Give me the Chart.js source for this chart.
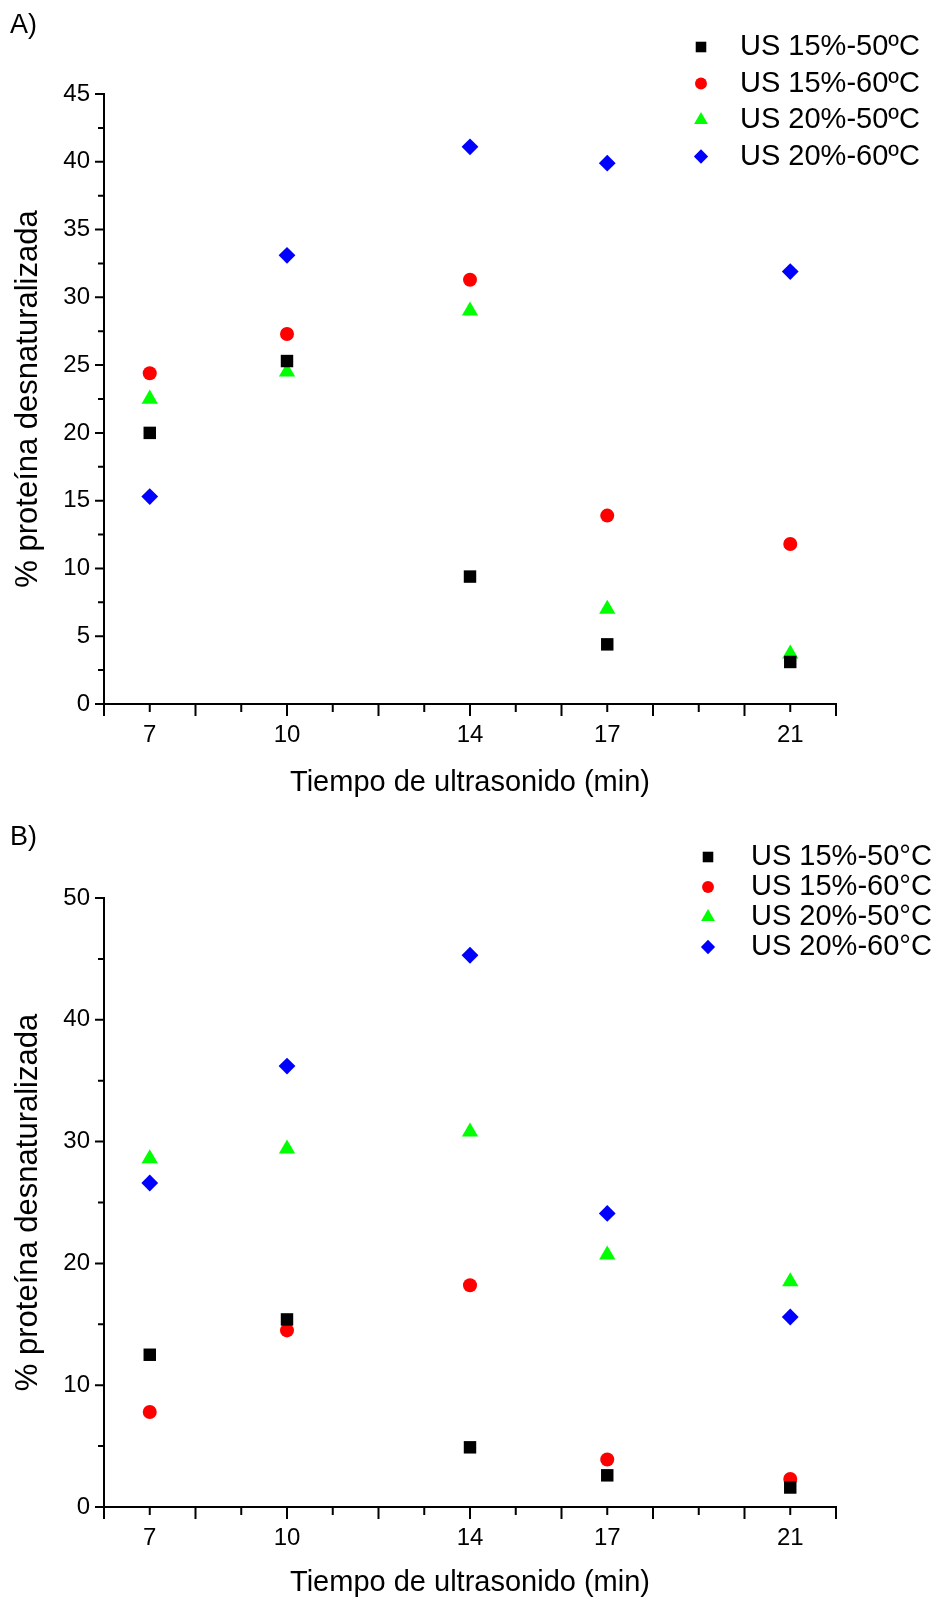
<!DOCTYPE html>
<html lang="es">
<head>
  <meta charset="UTF-8" />
  <title>Proteína desnaturalizada vs tiempo de ultrasonido</title>
  <script src="https://cdn.jsdelivr.net/npm/chart.js"></script>
  <style>
    html, body { margin: 0; padding: 0; background: #fff; }
    .panel { position: absolute; left: 0; width: 931px; height: 800px; }
    .tag { position: absolute; left: 10px; font: 27px "Liberation Sans", Arial, sans-serif; color: #000; line-height: 30px; }
  </style>
</head>
<body>
  <div class="panel" style="top:0"><canvas id="chartA"></canvas></div>
  <div class="panel" style="top:800px"><canvas id="chartB"></canvas></div>
  <div class="tag" style="top:9px">A)</div>
  <div class="tag" style="top:821px">B)</div>

  <script>
    // datos
    const tiempos = [7, 10, 14, 17, 21];
    const etiquetasX = [7, 10, 14, 17, 21];

    const nombresA = ['US 15%-50ºC', 'US 15%-60ºC', 'US 20%-50ºC', 'US 20%-60ºC'];
    const us15_50_A = [20.0, 25.3, 9.4, 4.4, 3.1];
    const us15_60_A = [24.4, 27.3, 31.3, 13.9, 11.8];
    const us20_50_A = [22.5, 24.5, 29.0, 7.0, 3.7];
    const us20_60_A = [15.3, 33.1, 41.1, 39.9, 31.9];

    const nombresB = ['US 15%-50°C', 'US 15%-60°C', 'US 20%-50°C', 'US 20%-60°C'];
    const us15_50_B = [12.5, 15.4, 4.9, 2.6, 1.6];
    const us15_60_B = [7.8, 14.5, 18.2, 3.9, 2.3];
    const us20_50_B = [28.6, 29.4, 30.8, 20.7, 18.5];
    const us20_60_B = [26.6, 36.2, 45.3, 24.1, 15.6];

    const FUENTE = '"Liberation Sans", Arial, sans-serif';
    Chart.defaults.font.family = FUENTE;
    Chart.defaults.color = '#000';

    // estilo de cada serie (cuadrado, circulo, triangulo, rombo)
    const estilos = [
      { pointStyle: 'rect', color: '#000000', radius: 8.8 },
      { pointStyle: 'circle', color: '#ff0000', radius: 7.0 },
      { pointStyle: 'triangle', color: '#00ff00', radius: 9.4 },
      { pointStyle: 'rectRot', color: '#0000ff', radius: 8.4 }
    ];

    // marcas de los ejes: largas y cortas como en Origin
    const marcasEjes = {
      id: 'marcasEjes',
      afterDraw(chart, args, opts) {
        const { ctx, chartArea, scales: { x, y } } = chart;
        ctx.save();
        ctx.strokeStyle = '#000';
        ctx.lineWidth = 2;
        ctx.beginPath();
        for (let v = x.min; v <= x.max; v += 1) {
          const px = x.getPixelForValue(v);
          const len = v % 2 === 0 ? 12 : 8;
          ctx.moveTo(px, chartArea.bottom);
          ctx.lineTo(px, chartArea.bottom + len);
        }
        const medio = opts.paso / 2;
        for (let k = 0; k * medio <= y.max + 1e-9; k++) {
          const py = y.getPixelForValue(k * medio);
          const len = k % 2 === 0 ? 9 : 6;
          ctx.moveTo(chartArea.left, py);
          ctx.lineTo(chartArea.left - len, py);
        }
        ctx.stroke();
        ctx.restore();
      }
    };

    const leyenda = {
      id: 'leyenda',
      afterDraw(chart, args, o) {
        const ctx = chart.ctx;
        ctx.save();
        ctx.font = o.size + 'px ' + FUENTE;
        ctx.textBaseline = 'middle';
        ctx.textAlign = 'left';
        chart.data.datasets.forEach((ds, i) => {
          const yy = o.y + i * o.dy;
          ctx.fillStyle = ds.backgroundColor;
          ctx.strokeStyle = ds.backgroundColor;
          Chart.helpers.drawPoint(ctx, {
            pointStyle: ds.pointStyle, radius: ds.pointRadius * 0.85, rotation: 0, borderWidth: 0
          }, o.x, yy);
          ctx.fillStyle = '#000';
          ctx.fillText(ds.label, o.xText, yy);
        });
        ctx.restore();
      }
    };

    function crearGrafico(id, nombres, series, yMax, paso, cfg) {
      const datasets = series.map((vals, i) => ({
        label: nombres[i],
        data: tiempos.map((t, j) => ({ x: t, y: vals[j] })),
        showLine: false,
        pointStyle: estilos[i].pointStyle,
        pointRadius: estilos[i].radius,
        pointHoverRadius: estilos[i].radius,
        backgroundColor: estilos[i].color,
        borderColor: estilos[i].color,
        pointBorderWidth: 0
      }));

      return new Chart(document.getElementById(id), {
        type: 'scatter',
        data: { datasets },
        plugins: [marcasEjes, leyenda],
        options: {
          responsive: true,
          maintainAspectRatio: false,
          animation: false,
          layout: { padding: { left: 0, top: cfg.top, right: 95, bottom: 0 } },
          plugins: {
            legend: { display: false },
            tooltip: { enabled: false },
            marcasEjes: { paso },
            leyenda: cfg.leyenda
          },
          scales: {
            x: {
              type: 'linear', min: 6, max: 22,
              grid: { display: false, tickLength: 12 },
              border: { display: true, color: '#000', width: 2 },
              ticks: {
                stepSize: 1, autoSkip: false, maxRotation: 0, padding: 5,
                font: { size: 24 },
                callback: v => etiquetasX.includes(v) ? String(v) : ''
              },
              title: {
                display: true, text: 'Tiempo de ultrasonido (min)',
                font: { size: 29 }, padding: { top: 0, bottom: 0 }
              },
              afterFit: s => { s.height = cfg.altoX; }
            },
            y: {
              min: 0, max: yMax,
              grid: { display: false, tickLength: 9 },
              border: { display: true, color: '#000', width: 2 },
              ticks: { stepSize: paso, padding: 5, font: { size: 24 } },
              title: {
                display: true, text: '% proteína desnaturalizada',
                font: { size: 31 }, padding: { top: 10, bottom: 0 }
              },
              afterFit: s => { s.width = 104; }
            }
          }
        }
      });
    }

    crearGrafico('chartA', nombresA, [us15_50_A, us15_60_A, us20_50_A, us20_60_A], 45, 5, {
      top: 94, altoX: 96,
      leyenda: { x: 701, xText: 740, y: 47, dy: 36.5, size: 29 }
    });

    crearGrafico('chartB', nombresB, [us15_50_B, us15_60_B, us20_50_B, us20_60_B], 50, 10, {
      top: 98, altoX: 93,
      leyenda: { x: 708, xText: 751, y: 57, dy: 30, size: 29 }
    });
  </script>
</body>
</html>
